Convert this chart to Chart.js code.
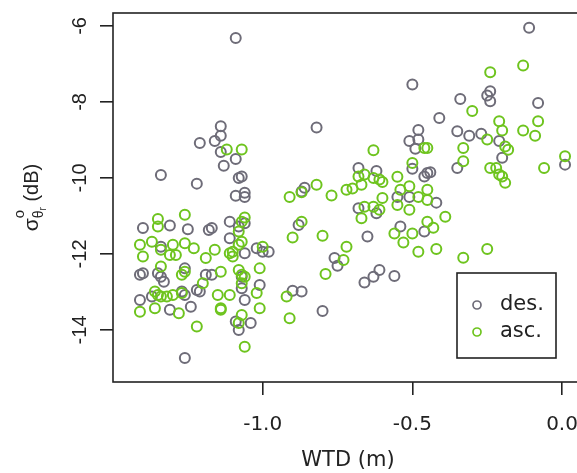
<!DOCTYPE html>
<html>
<head>
<meta charset="utf-8">
<script src="https://cdn.jsdelivr.net/npm/chart.js@4.4.0/dist/chart.umd.min.js"></script>
<style>
  html, body { margin: 0; padding: 0; background: #fff; }
  #wrap { width: 577px; height: 473px; overflow: hidden; }
  canvas { display: block; }
</style>
</head>
<body>
<div id="wrap"><canvas id="wtd" width="590" height="473"></canvas></div>
<script>
// descending passes: water table depth (m) and backscatter (dB)
const desWtd = [
  -1.09, -1.14, -1.14, -1.21, -1.16, -1.14, -1.09, -1.13, -1.34, -1.22,
  -1.08, -1.07, -1.09, -1.06, -1.06, -1.40, -1.31, -1.25, -1.17, -1.18,
  -1.11, -1.08, -1.06, -1.11, -1.02, -1.00, -1.06, -1.34, -1.41, -1.40,
  -1.35, -1.34, -1.33, -1.26, -1.19, -1.17, -1.07, -1.07, -1.01, -1.41,
  -1.37, -1.27, -1.26, -1.22, -1.21, -1.06, -1.24, -1.31, -1.09, -1.08,
  -1.04, -1.26, -0.50, -0.82, -0.48, -0.51, -0.48, -0.49, -0.50, -0.68,
  -0.62, -0.86, -0.87, -0.55, -0.51, -0.46, -0.68, -0.62, -0.88, -0.65,
  -0.54, -0.46, -0.76, -0.75, -0.98, -0.61, -0.63, -0.66, -0.56, -0.90,
  -0.87, -0.80, -0.11, -0.34, -0.24, -0.25, -0.24, -0.08, -0.41, -0.35,
  -0.31, -0.27, -0.21, -0.20, -0.35, -0.45, -0.44, 0.01, -0.42
];
const desSig = [
  -6.32, -8.64, -8.89, -9.08, -9.03, -9.32, -9.50, -9.68, -9.92, -10.15,
  -10.00, -9.96, -10.47, -10.39, -10.50, -11.32, -11.25, -11.35, -11.32, -11.37,
  -11.15, -11.28, -11.19, -11.59, -11.85, -11.94, -11.98, -11.81, -12.55, -12.51,
  -12.51, -12.60, -12.73, -12.38, -12.55, -12.55, -12.60, -12.90, -12.82, -13.21,
  -13.12, -12.99, -13.08, -12.95, -12.99, -13.21, -13.39, -13.47, -13.78, -14.00,
  -13.82, -14.74, -7.54, -8.67, -8.74, -9.03, -8.99, -9.23, -9.76, -9.74,
  -9.82, -10.26, -10.36, -10.50, -10.50, -9.96, -10.80, -10.93, -11.24, -11.54,
  -11.28, -11.41, -12.11, -12.31, -11.94, -12.42, -12.60, -12.75, -12.58, -12.97,
  -12.99, -13.50, -6.05, -7.92, -7.72, -7.83, -7.98, -8.03, -8.42, -8.77,
  -8.89, -8.84, -9.03, -9.47, -9.74, -9.87, -9.85, -9.65, -10.65
];

// ascending passes
const ascWtd = [
  -1.12, -1.07, -1.35, -1.35, -1.26, -1.06, -1.07, -1.08, -1.07, -1.08,
  -1.41, -1.40, -1.37, -1.34, -1.30, -1.29, -1.31, -1.26, -1.23, -1.19,
  -1.16, -1.11, -1.10, -1.10, -1.34, -1.27, -1.26, -1.14, -1.08, -1.07,
  -1.06, -1.01, -1.00, -1.35, -1.34, -1.32, -1.30, -1.36, -1.27, -1.20,
  -1.15, -1.11, -1.14, -1.14, -1.07, -1.02, -1.01, -1.41, -1.36, -1.28,
  -1.07, -1.08, -1.22, -1.06, -0.63, -0.50, -0.46, -0.66, -0.68, -0.63,
  -0.61, -0.60, -0.67, -0.55, -0.51, -0.82, -0.87, -0.91, -0.77, -0.72,
  -0.70, -0.60, -0.54, -0.48, -0.66, -0.63, -0.61, -0.67, -0.55, -0.51,
  -0.87, -0.90, -0.80, -0.56, -0.53, -0.50, -0.48, -0.72, -0.73, -0.79,
  -0.92, -0.91, -0.13, -0.24, -0.30, -0.21, -0.20, -0.13, -0.08, -0.09,
  -0.25, -0.19, -0.18, -0.33, -0.45, -0.33, -0.24, -0.22, -0.21, -0.20,
  -0.19, -0.06, 0.01, -0.45, -0.45, -0.39, -0.45, -0.43, -0.42, -0.33,
  -0.25
];
const ascSig = [
  -9.25, -9.25, -11.08, -11.28, -10.97, -11.04, -11.15, -11.41, -11.68, -11.76,
  -11.76, -12.07, -11.68, -11.89, -11.76, -12.03, -12.03, -11.72, -11.85, -12.11,
  -11.89, -11.98, -12.07, -11.94, -12.33, -12.55, -12.47, -12.47, -12.42, -12.55,
  -12.60, -12.38, -11.81, -13.08, -13.12, -13.12, -13.08, -12.99, -13.03, -12.77,
  -13.08, -13.08, -13.43, -13.47, -12.77, -13.03, -13.43, -13.52, -13.43, -13.56,
  -13.61, -13.82, -13.91, -14.44, -9.27, -9.61, -9.21, -9.91, -9.96, -10.00,
  -10.04, -10.11, -10.18, -9.97, -10.22, -10.18, -10.38, -10.50, -10.46, -10.31,
  -10.28, -10.53, -10.31, -10.50, -10.76, -10.76, -10.84, -11.06, -10.71, -10.84,
  -11.15, -11.57, -11.52, -11.46, -11.70, -11.46, -11.94, -11.81, -12.16, -12.53,
  -13.12, -13.69, -7.04, -7.22, -8.24, -8.51, -8.75, -8.75, -8.51, -8.89,
  -8.99, -9.17, -9.26, -9.21, -9.21, -9.56, -9.74, -9.74, -9.91, -9.96,
  -10.13, -9.74, -9.43, -10.31, -10.58, -11.02, -11.15, -11.31, -11.87, -12.10,
  -11.87
];

const seriesNames = ['des.', 'asc.'];
const xTicks = [-1.0, -0.5, 0.0];
const yTicks = [-14, -12, -10, -8, -6];

const GREY = 'rgb(110,108,120)';
const GREEN = 'rgb(110,196,30)';
const INK = '#222';
const HFONT = 'DejaVu Sans';
const VFONT = 'Liberation Sans';

const toPts = (xs, ys) => xs.map((x, i) => ({ x: x, y: ys[i] }));

// closed box round the plotting region
const frameBox = {
  id: 'frameBox',
  afterDatasetsDraw(chart) {
    const { ctx, chartArea: a } = chart;
    ctx.save();
    ctx.strokeStyle = INK;
    ctx.lineWidth = 1.6;
    ctx.strokeRect(a.left, a.top, a.right - a.left, a.bottom - a.top);
    ctx.restore();
  }
};

// sigma^o_{theta_r} (dB), written bottom to top
const yTitle = {
  id: 'yTitle',
  afterDraw(chart) {
    const { ctx, chartArea: a } = chart;
    const parts = [
      { t: 'σ', size: 21, dy: 0, adv: true },
      { t: 'o', size: 15, dy: -14, adv: false },
      { t: 'θ', size: 14, dy: 5, adv: true },
      { t: 'r', size: 10, dy: 8, adv: true },
      { t: ' (dB)', size: 20, dy: 0, adv: true }
    ];
    ctx.save();
    let total = 0;
    parts.forEach(p => {
      ctx.font = p.size + 'px "' + VFONT + '"';
      p.w = ctx.measureText(p.t).width;
      if (p.adv) total += p.w;
    });
    ctx.translate(38, (a.top + a.bottom) / 2);
    ctx.rotate(-Math.PI / 2);
    ctx.fillStyle = INK;
    ctx.textBaseline = 'alphabetic';
    let x = -total / 2;
    parts.forEach(p => {
      ctx.font = p.size + 'px "' + VFONT + '"';
      ctx.fillText(p.t, x, p.dy);
      if (p.adv) x += p.w;
    });
    ctx.restore();
  }
};

// boxed key in the lower right corner
const keyBox = {
  id: 'keyBox',
  afterDraw(chart) {
    const { ctx, chartArea: a } = chart;
    const left = a.left + 344, top = a.top + 260, w = 99, h = 85;
    ctx.save();
    ctx.fillStyle = '#fff';
    ctx.fillRect(left, top, w, h);
    ctx.strokeStyle = INK;
    ctx.lineWidth = 1.6;
    ctx.strokeRect(left, top, w, h);
    ctx.font = '21px "' + HFONT + '"';
    ctx.textBaseline = 'middle';
    chart.data.datasets.forEach((ds, i) => {
      const cy = top + 32 + i * 27;
      ctx.beginPath();
      ctx.arc(left + 20, cy, 4, 0, Math.PI * 2);
      ctx.strokeStyle = ds.borderColor;
      ctx.lineWidth = 1.7;
      ctx.stroke();
      ctx.fillStyle = INK;
      ctx.fillText(ds.label, left + 43, cy);
    });
    ctx.restore();
  }
};

new Chart(document.getElementById('wtd'), {
  type: 'scatter',
  data: {
    datasets: [
      {
        label: seriesNames[0],
        data: toPts(desWtd, desSig),
        borderColor: GREY,
        backgroundColor: 'rgba(0,0,0,0)',
        pointRadius: 5,
        pointBorderWidth: 2,
        order: 1
      },
      {
        label: seriesNames[1],
        data: toPts(ascWtd, ascSig),
        borderColor: GREEN,
        backgroundColor: 'rgba(0,0,0,0)',
        pointRadius: 5,
        pointBorderWidth: 2,
        order: 0
      }
    ]
  },
  options: {
    responsive: false,
    animation: false,
    devicePixelRatio: 1,
    layout: { padding: { top: 13, right: 7, left: 0, bottom: 0 } },
    plugins: {
      legend: { display: false },
      tooltip: { enabled: false }
    },
    scales: {
      x: {
        type: 'linear',
        min: -1.5,
        max: 0.07,
        afterFit: s => { s.height = 91; s.paddingLeft = 0; s.paddingRight = 0; },
        afterBuildTicks: s => { s.ticks = xTicks.map(v => ({ value: v })); },
        grid: { drawOnChartArea: false, tickLength: 13, color: INK, lineWidth: 1.6 },
        border: { display: false },
        ticks: {
          padding: 18,
          color: INK,
          font: { family: HFONT, size: 20 },
          maxRotation: 0,
          callback: v => v.toFixed(1)
        },
        title: {
          display: true,
          text: 'WTD (m)',
          color: INK,
          font: { family: HFONT, size: 21 },
          padding: { top: 0, bottom: 0 }
        }
      },
      y: {
        type: 'linear',
        min: -15.37,
        max: -5.66,
        afterFit: s => { s.width = 113; s.paddingTop = 0; s.paddingBottom = 0; },
        afterBuildTicks: s => { s.ticks = yTicks.map(v => ({ value: v })); },
        grid: { drawOnChartArea: false, tickLength: 13, color: INK, lineWidth: 1.6 },
        border: { display: false },
        ticks: {
          padding: 5,
          color: INK,
          font: { family: VFONT, size: 20 },
          minRotation: 90,
          maxRotation: 90,
          crossAlign: 'center',
          callback: v => String(v)
        }
      }
    }
  },
  plugins: [frameBox, yTitle, keyBox]
});
</script>
</body>
</html>
